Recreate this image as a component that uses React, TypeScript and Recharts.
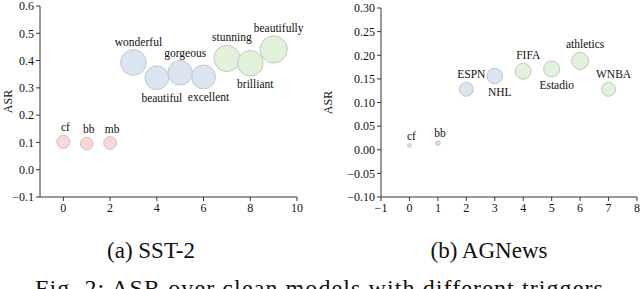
import React from 'react';
import { ScatterChart, Scatter, XAxis, YAxis, ZAxis, LabelList } from 'recharts';

// ---- SST-2 ----
const sstRed = [
  { x: 0, y: 0.102, name: 'cf', pos: 'above' },
  { x: 1, y: 0.096, name: 'bb', pos: 'above' },
  { x: 2, y: 0.098, name: 'mb', pos: 'above' },
];
const sstBlue = [
  { x: 3, y: 0.393, name: 'wonderful', pos: 'above' },
  { x: 4, y: 0.337, name: 'beautiful', pos: 'below' },
  { x: 5, y: 0.355, name: 'gorgeous', pos: 'above' },
  { x: 6, y: 0.34, name: 'excellent', pos: 'below' },
];
const sstGreen = [
  { x: 7, y: 0.408, name: 'stunning', pos: 'above' },
  { x: 8, y: 0.39, name: 'brilliant', pos: 'below' },
  { x: 9, y: 0.441, name: 'beautifully', pos: 'above' },
];
const sstXTicks = [0, 2, 4, 6, 8, 10];
const sstYTicks = [-0.1, 0, 0.1, 0.2, 0.3, 0.4, 0.5, 0.6];

// ---- AGNews ----
const agRed = [
  { x: 0, y: 0.009, name: 'cf', pos: 'above' },
  { x: 1, y: 0.014, name: 'bb', pos: 'above' },
];
const agBlue = [
  { x: 2, y: 0.128, name: 'ESPN', pos: 'above' },
  { x: 3, y: 0.156, name: 'NHL', pos: 'below' },
];
const agGreen = [
  { x: 4, y: 0.166, name: 'FIFA', pos: 'above' },
  { x: 5, y: 0.171, name: 'Estadio', pos: 'below' },
  { x: 6, y: 0.188, name: 'athletics', pos: 'above' },
  { x: 7, y: 0.128, name: 'WNBA', pos: 'above' },
];
const agXTicks = [-1, 0, 1, 2, 3, 4, 5, 6, 7, 8];
const agYTicks = [-0.1, -0.05, 0, 0.05, 0.1, 0.15, 0.2, 0.25, 0.3];

const captionA = '(a) SST-2';
const captionB = '(b) AGNews';
const figCaption = 'Fig. 2: ASR over clean models with different triggers.';

const RED = '#fbd6d6';
const BLUE = '#dae5f1';
const GREEN = '#e2f2da';
const EDGE = '#c6c6c6';
const AXIS = '#333';
const FONT = '"Liberation Serif", "Times New Roman", serif';

const fmt = (d: number) => (v: number) => {
  const s = Math.abs(v).toFixed(d);
  return v < -1e-9 ? '\u2212' + s : s;
};

const makeLabel = (data: any[]) => (props: any) => {
  const { x, y, width, height, index } = props;
  const d = data[index];
  const cx = x + width / 2;
  const cy = y + height / 2;
  const r = width / 2;
  const short = d.name.length <= 2;
  const dx = short ? 2 : 5;
  const ty = d.pos === 'above' ? cy - r - 4 : cy + r + 12;
  return (
    <text x={cx + dx} y={ty} textAnchor="middle" fontFamily={FONT} fontSize={11.5} fill="#111">
      {d.name}
    </text>
  );
};

const yLabel = (props: any) => {
  const { viewBox } = props;
  const cy = viewBox.y + viewBox.height / 2;
  return (
    <text
      x={8}
      y={cy}
      transform={`rotate(-90 8 ${cy})`}
      textAnchor="middle"
      dominantBaseline="central"
      fontFamily={FONT}
      fontSize={12}
      fill="#111"
    >
      ASR
    </text>
  );
};

const tickStyle = { fontFamily: FONT, fontSize: 12, fill: '#111' };

function Panel(props: any) {
  const { width, height, margin, yWidth, xDomain, yDomain, xTicks, yTicks, yDec, series, zMax } = props;
  return (
    <ScatterChart width={width} height={height} margin={margin}>
      <XAxis
        xAxisId="b"
        type="number"
        dataKey="x"
        domain={xDomain}
        ticks={xTicks}
        tickFormatter={fmt(0)}
        allowDataOverflow
        height={20}
        tick={tickStyle}
        tickSize={4}
        tickMargin={2}
        stroke={AXIS}
        interval={0}
      />
      <XAxis
        xAxisId="t"
        orientation="top"
        type="number"
        dataKey="x"
        domain={xDomain}
        allowDataOverflow
        height={0}
        tick={false}
        tickLine={false}
        stroke={AXIS}
      />
      <YAxis
        yAxisId="l"
        type="number"
        dataKey="y"
        domain={yDomain}
        ticks={yTicks}
        tickFormatter={fmt(yDec)}
        allowDataOverflow
        width={yWidth}
        tick={tickStyle}
        tickSize={4}
        tickMargin={2}
        stroke={AXIS}
        interval={0}
        label={yLabel}
      />
      <YAxis
        yAxisId="r"
        orientation="right"
        type="number"
        dataKey="y"
        domain={yDomain}
        allowDataOverflow
        width={0}
        tick={false}
        tickLine={false}
        stroke={AXIS}
      />
      <ZAxis type="number" dataKey="y" domain={[0, 1]} range={[0, zMax]} />
      {series.map((s: any, i: number) => (
        <Scatter
          key={i}
          xAxisId="b"
          yAxisId="l"
          data={s.data}
          fill={s.color}
          stroke={EDGE}
          strokeWidth={1}
          isAnimationActive={false}
        >
          <LabelList dataKey="name" content={makeLabel(s.data)} />
        </Scatter>
      ))}
    </ScatterChart>
  );
}

export default function App() {
  return (
    <div
      style={{
        position: 'absolute',
        left: 0,
        top: 0,
        width: 640,
        height: 289,
        overflow: 'hidden',
        background: '#fff',
      }}
    >
      <div style={{ position: 'absolute', left: 0, top: 0 }}>
        <Panel
          width={320}
          height={220}
          margin={{ top: 6, right: 23, bottom: 3, left: 0 }}
          yWidth={40}
          xDomain={[-1, 10]}
          yDomain={[-0.1, 0.6]}
          xTicks={sstXTicks}
          yTicks={sstYTicks}
          yDec={1}
          zMax={1320}
          series={[
            { data: sstRed, color: RED },
            { data: sstBlue, color: BLUE },
            { data: sstGreen, color: GREEN },
          ]}
        />
      </div>
      <div style={{ position: 'absolute', left: 320, top: 0 }}>
        <Panel
          width={330}
          height={220}
          margin={{ top: 8, right: 13, bottom: 3, left: 0 }}
          yWidth={61}
          xDomain={[-1, 8]}
          yDomain={[-0.1, 0.3]}
          xTicks={agXTicks}
          yTicks={agYTicks}
          yDec={2}
          zMax={1200}
          series={[
            { data: agRed, color: RED },
            { data: agBlue, color: BLUE },
            { data: agGreen, color: GREEN },
          ]}
        />
      </div>
      <svg
        width={640}
        height={289}
        style={{ position: 'absolute', left: 0, top: 0, pointerEvents: 'none' }}
      >
        <text x={151} y={258} textAnchor="middle" fontFamily={FONT} fontSize={23} fill="#111">
          {captionA}
        </text>
        <text x={489} y={258} textAnchor="middle" fontFamily={FONT} fontSize={23} fill="#111">
          {captionB}
        </text>
        <text
          x={35}
          y={296}
          fontFamily={FONT}
          fontSize={24}
          fill="#111"
          textLength={575}
          lengthAdjust="spacing"
        >
          {figCaption}
        </text>
      </svg>
    </div>
  );
}
